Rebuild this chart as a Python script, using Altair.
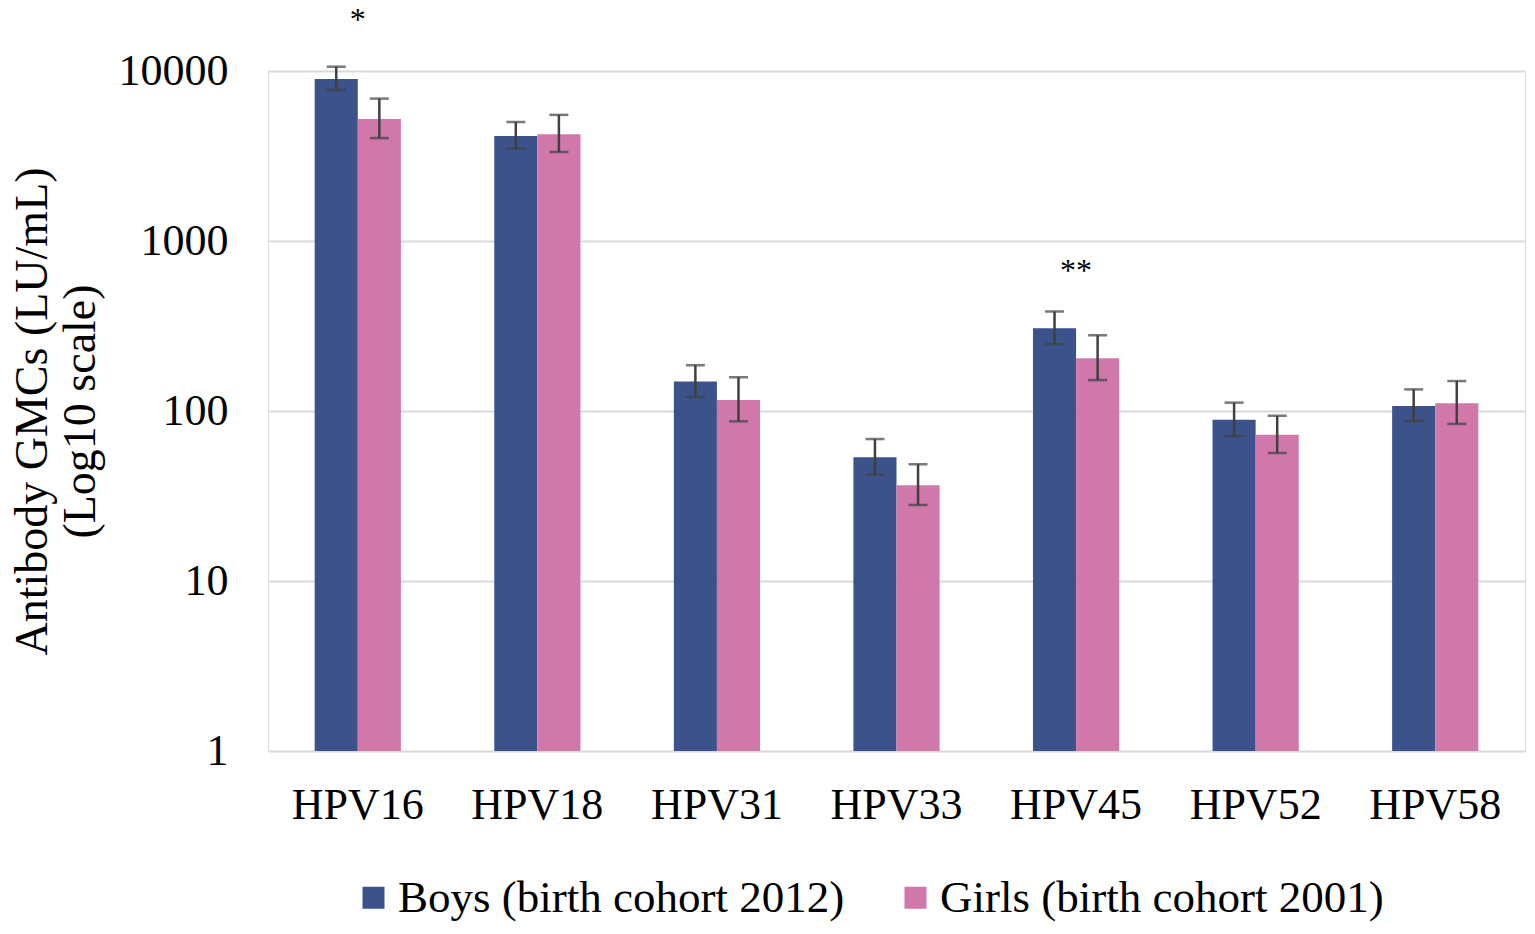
import altair as alt
import pandas as pd

categories = ["HPV16", "HPV18", "HPV31", "HPV33", "HPV45", "HPV52", "HPV58"]
groups = ["Boys (birth cohort 2012)", "Girls (birth cohort 2001)"]

boys_gmc = [8970, 4150, 149, 53.4, 307, 88.9, 107]
boys_lo = [7730, 3500, 121, 42.3, 247, 71.0, 87.3]
boys_hi = [10600, 5020, 186, 68.4, 385, 112, 134]

girls_gmc = [5220, 4250, 116, 36.6, 204, 72.6, 111]
girls_lo = [4030, 3340, 86.9, 28.0, 152, 56.6, 84.0]
girls_hi = [6880, 5520, 158, 48.6, 279, 93.8, 150]

annot_cats = ["HPV16", "HPV45"]
annot_text = ["*", "**"]
annot_y = [17500, 584]

colors = ["#3B528B", "#CF78A9"]
FONT = "Liberation Serif"

rows = []
for i, c in enumerate(categories):
    rows.append({"cat": c, "group": groups[0], "gmc": boys_gmc[i], "lo": boys_lo[i], "hi": boys_hi[i]})
    rows.append({"cat": c, "group": groups[1], "gmc": girls_gmc[i], "lo": girls_lo[i], "hi": girls_hi[i]})
df = pd.DataFrame(rows)
adf = pd.DataFrame({"cat": annot_cats, "txt": annot_text, "y": annot_y})

xenc = alt.X("cat:N", sort=categories,
             scale=alt.Scale(paddingInner=0.52, paddingOuter=0.26),
             axis=alt.Axis(title=None, labelFont=FONT, labelFontSize=44, labelColor="black",
                           labelAngle=0, labelPadding=32, ticks=False, domain=False, grid=False))
xoff = alt.XOffset("group:N", sort=groups)
yscale = alt.Scale(type="log", domain=[1, 10000])

base = alt.Chart(df)

bars = base.mark_bar(opacity=1).encode(
    x=xenc,
    xOffset=xoff,
    y=alt.Y("gmc:Q", scale=yscale,
            axis=alt.Axis(values=[1, 10, 100, 1000, 10000], format="d",
                          title=["Antibody GMCs (LU/mL)", "(Log10 scale)"],
                          titleFont=FONT, titleFontSize=46, titleFontWeight="normal",
                          titleColor="black", titleLineHeight=48, titlePadding=14,
                          labelFont=FONT, labelFontSize=44, labelColor="black",
                          labelPadding=40, ticks=False, domain=False,
                          grid=True, gridColor="#d9d9d9", gridWidth=2)),
    y2=alt.datum(1),
    color=alt.Color("group:N", sort=groups,
                    scale=alt.Scale(domain=groups, range=colors),
                    legend=alt.Legend(title=None, orient="none", legendX=83, legendY=804,
                                      direction="horizontal", symbolType="square",
                                      symbolSize=484, symbolStrokeWidth=0, symbolOpacity=1,
                                      labelFont=FONT, labelFontSize=45, labelColor="black",
                                      labelLimit=0, labelOffset=2, columnPadding=48)),
)

rules = base.mark_rule(color="#404040", strokeWidth=2.5).encode(
    x="cat:N", xOffset=xoff, y="lo:Q", y2="hi:Q")
cap_lo = base.mark_tick(color="#404040", thickness=2.5, size=19).encode(
    x="cat:N", xOffset=xoff, y="lo:Q")
cap_hi = base.mark_tick(color="#404040", thickness=2.5, size=19).encode(
    x="cat:N", xOffset=xoff, y="hi:Q")

annots = alt.Chart(adf).mark_text(font=FONT, fontSize=32, color="black", baseline="alphabetic").encode(
    x="cat:N", y="y:Q", text="txt:N")

chart = alt.layer(bars, rules, cap_lo, cap_hi, annots).properties(
    width=1257, height=680,
    padding={"left": 260, "top": 63, "right": 2, "bottom": 175},
    autosize=alt.AutoSizeParams(type="none"),
).configure_view(stroke=None).configure(background="white")

chart.save("out.html", embed_options={"renderer": "svg", "actions": False})
